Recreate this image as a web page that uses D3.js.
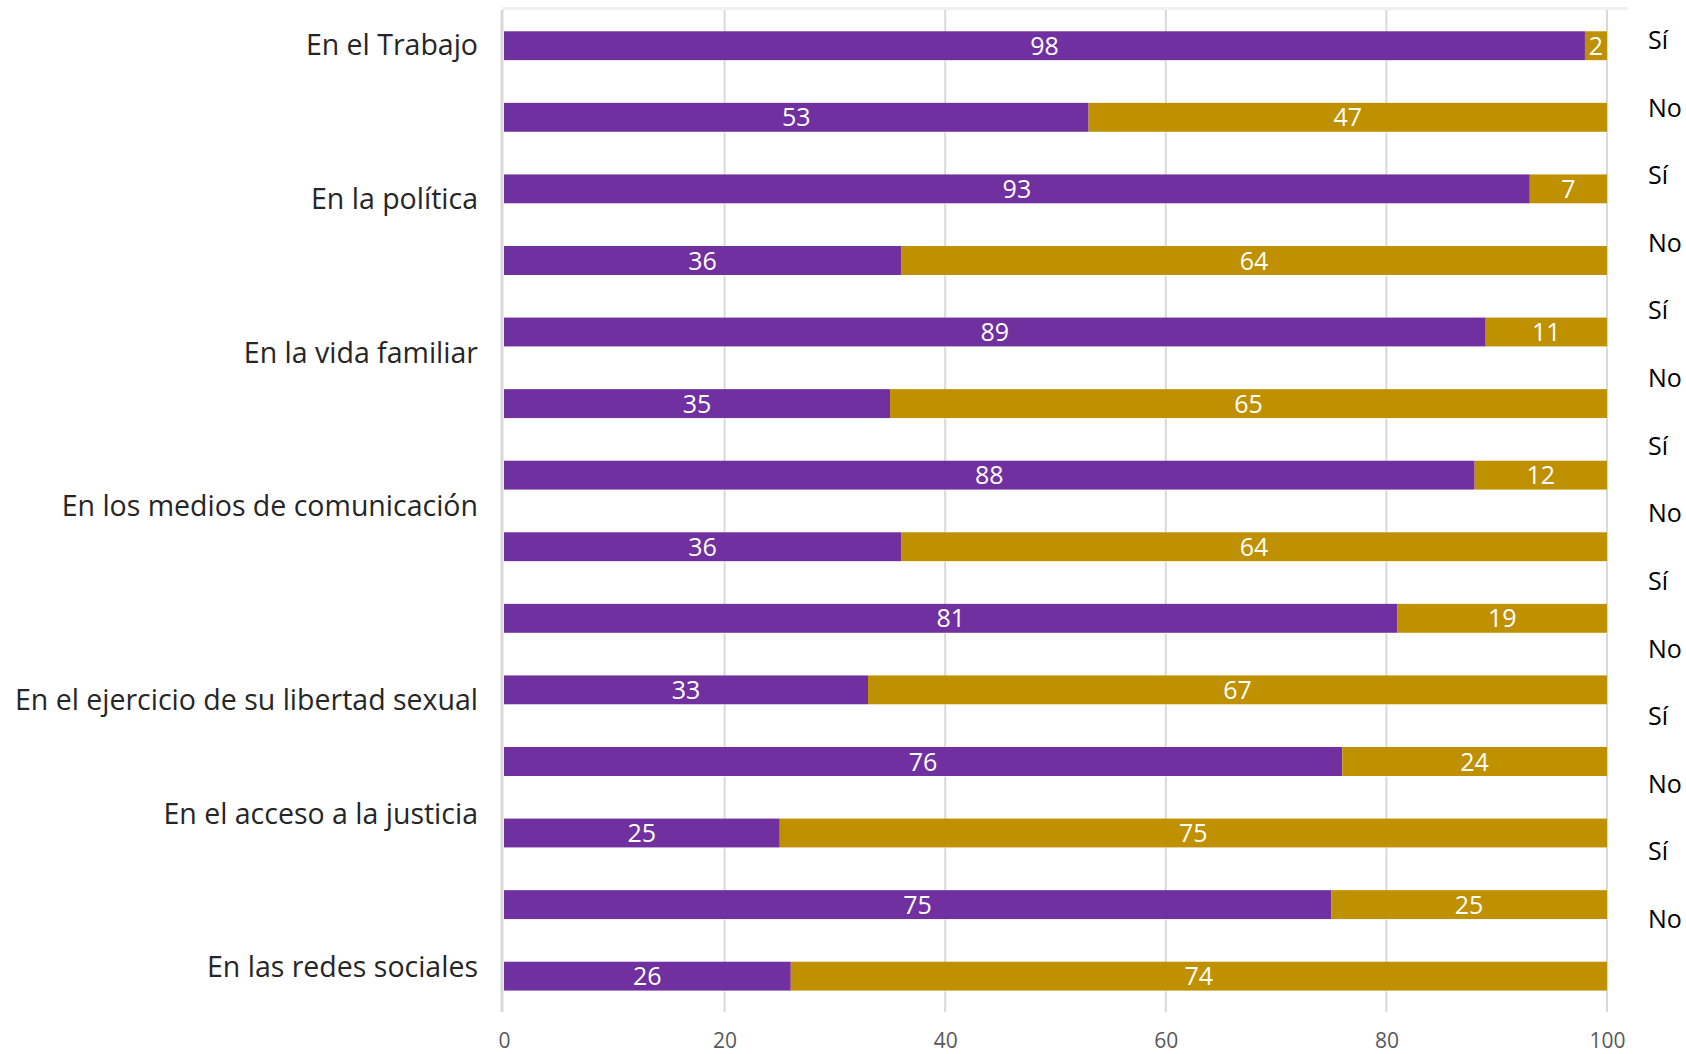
<!DOCTYPE html>
<html><head><meta charset="utf-8">
<script src="https://cdn.jsdelivr.net/npm/d3@7"></script>
<style>html,body{margin:0;padding:0;background:#fff;}svg{display:block;}</style>
</head><body>
<svg id="chart" width="1686" height="1054"></svg>
<script>
const categories = ["En el Trabajo","En la política","En la vida familiar","En los medios de comunicación","En el ejercicio de su libertad sexual","En el acceso a la justicia","En las redes sociales"];
const answers = ["Sí","No"];
// purple share (first series) and gold share (second series), for each category: Sí row then No row
const purpleSi = [98, 93, 89, 88, 81, 76, 75];
const goldSi   = [2, 7, 11, 12, 19, 24, 25];
const purpleNo = [53, 36, 35, 36, 33, 25, 26];
const goldNo   = [47, 64, 65, 64, 67, 75, 74];
const xTicks = [0, 20, 40, 60, 80, 100];

const svg = d3.select("#chart");
const font = "'Open Sans', sans-serif";
const purple = "#7030A0", gold = "#BF9000";

const rows = [];
categories.forEach((c, i) => {
  rows.push({id: i + "-Sí", cat: c, ans: answers[0], a: purpleSi[i], b: goldSi[i]});
  rows.push({id: i + "-No", cat: c, ans: answers[1], a: purpleNo[i], b: goldNo[i]});
});

const x = d3.scaleLinear().domain([0, 100]).range([504, 1607]);
const y = d3.scaleBand().domain(rows.map(r => r.id)).range([10, 1012]).paddingInner(0.595).paddingOuter(0.2975);

// top border
svg.append("line").attr("x1", 502).attr("x2", 1628).attr("y1", 8.5).attr("y2", 8.5)
  .attr("stroke", "#f0f0f0").attr("stroke-width", 3);

// gridlines
svg.append("g").selectAll("line").data(xTicks.slice(1)).join("line")
  .attr("x1", d => x(d)).attr("x2", d => x(d)).attr("y1", 10).attr("y2", 1012)
  .attr("stroke", "#d9d9d9").attr("stroke-width", 2);
// left axis line
svg.append("line").attr("x1", 502).attr("x2", 502).attr("y1", 10).attr("y2", 1012)
  .attr("stroke", "#d9d9d9").attr("stroke-width", 3);

// bars
const g = svg.append("g");
rows.forEach(r => {
  const yy = y(r.id), h = y.bandwidth();
  g.append("rect").attr("x", x(0)).attr("y", yy).attr("width", x(r.a) - x(0)).attr("height", h).attr("fill", purple);
  g.append("rect").attr("x", x(r.a)).attr("y", yy).attr("width", x(r.a + r.b) - x(r.a)).attr("height", h).attr("fill", gold);
  g.append("line").attr("x1", x(0)).attr("x2", x(100)).attr("y1", yy + h + 0.5).attr("y2", yy + h + 0.5)
    .attr("stroke", "#ffffff").attr("stroke-opacity", 0.6).attr("stroke-width", 1);
  g.append("text").attr("x", (x(0) + x(r.a)) / 2).attr("y", yy + h / 2).attr("dy", "0.36em")
    .attr("text-anchor", "middle").attr("fill", "#fff").style("font-family", font).style("font-size", "25px").text(r.a);
  g.append("text").attr("x", (x(r.a) + x(r.a + r.b)) / 2).attr("y", yy + h / 2).attr("dy", "0.36em")
    .attr("text-anchor", "middle").attr("fill", "#fff").style("font-family", font).style("font-size", "25px").text(r.b);
});

// x axis tick labels
const xAxis = d3.axisBottom(x).tickValues(xTicks).tickSize(0).tickPadding(0);
const ax = svg.append("g").attr("transform", "translate(0,1040)").call(xAxis);
ax.select(".domain").remove();
ax.selectAll(".tick text").attr("fill", "#595959").style("font-family", font).style("font-size", "21px").attr("dy", "0.36em").attr("y", 0);

// left category labels
const yl = d3.scalePoint().domain(categories).range([45, 967]);
svg.append("g").selectAll("text").data(categories).join("text")
  .attr("x", 478).attr("y", (d, i) => yl(d) + (i === 4 ? 40 : 0)).attr("dy", "0.36em")
  .attr("text-anchor", "end").attr("fill", "#262626").style("font-family", font).style("font-size", "28.5px").text(d => d);

// right answer labels
const yr = d3.scalePoint().domain(rows.map(r => r.id)).range([40, 919]);
svg.append("g").selectAll("text").data(rows).join("text")
  .attr("x", 1648).attr("y", d => yr(d.id)).attr("dy", "0.36em")
  .attr("fill", "#000").style("font-family", font).style("font-size", "25px").text(d => d.ans);
</script>
</body></html>
